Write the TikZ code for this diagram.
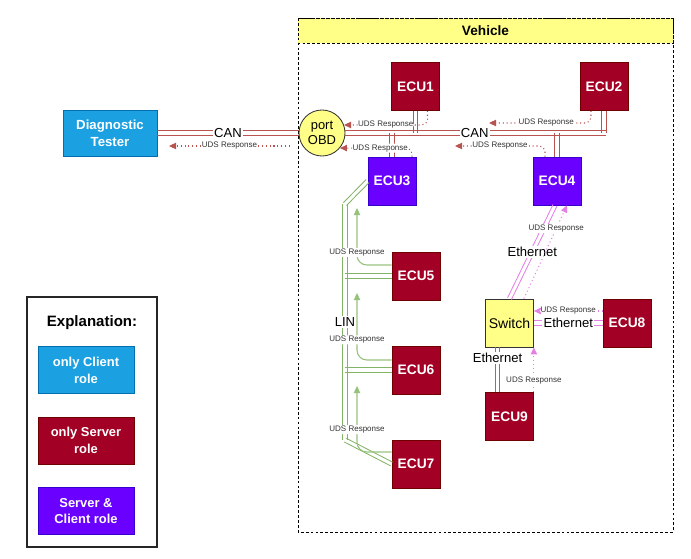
\documentclass[tikz,border=0pt]{standalone}
\usepackage{fontspec}
\setmainfont{Liberation Sans}
\usetikzlibrary{positioning,arrows.meta,calc}
\definecolor{client}{HTML}{1BA1E2}
\definecolor{clientline}{HTML}{006EAF}
\definecolor{server}{HTML}{A20025}
\definecolor{serverline}{HTML}{6F0000}
\definecolor{both}{HTML}{6A00FF}
\definecolor{bothline}{HTML}{3700CC}
\definecolor{note}{HTML}{FFFF88}
\definecolor{canbus}{HTML}{B85450}
\definecolor{linbus}{HTML}{82B366}
\definecolor{linresp}{HTML}{97C27E}
\definecolor{ethbus}{HTML}{E47FE6}
\definecolor{ethdark}{HTML}{B050C8}
\definecolor{ink}{HTML}{333333}

\tikzset{
  box/.style={draw, line width=0.5pt, minimum width=1.2cm, minimum height=1.2cm,
    inner sep=1pt, align=center, text=white,
    font=\fontsize{9.8}{11.5}\selectfont\bfseries},
  srv/.style={box, fill=server, draw=serverline},
  cli/.style={box, fill=client, draw=clientline},
  srvcli/.style={box, fill=both, draw=bothline},
  canlink/.style={draw=canbus, line width=0.6pt},
  linlink/.style={draw=linbus, line width=0.6pt},
  ethlink/.style={draw=ethbus, line width=0.6pt},
  resp/.style={dotted, line width=0.75pt, rounded corners=4pt,
    -{Triangle[length=5pt,width=4.5pt]}},
  canresp/.style={resp, draw=canbus},
  linresp/.style={resp, solid, draw=linresp, rounded corners=7pt},
  ethresp/.style={resp, draw=ethbus},
  buslabel/.style={fill=white, inner sep=1pt, text=black,
    font=\fontsize{9.3}{10}\selectfont},
  resplabel/.style={fill=white, inner sep=0.6pt, text=ink,
    font=\fontsize{5.7}{6}\selectfont},
}
% two parallel lines between two points
\newcommand{\buslink}[3]{%
  \draw[#1] ($(#2)!1.5pt!90:(#3)$) -- ($(#3)!1.5pt!-90:(#2)$);
  \draw[#1] ($(#2)!1.5pt!-90:(#3)$) -- ($(#3)!1.5pt!90:(#2)$);}

\begin{document}
\begin{tikzpicture}[x=0.025cm, y=-0.025cm]
  \useasboundingbox (0,0) rectangle (691,559);

  % vehicle frame
  \draw[dash pattern=on 2pt off 1.5pt, line width=0.6pt, fill=note]
    (298,18) rectangle (673,43);
  \draw[dash pattern=on 2pt off 1.5pt, line width=0.6pt] (298,18) rectangle (673,532);
  \node[font=\fontsize{9.7}{11}\selectfont\bfseries] (vehicle) at (485.5,30.5) {Vehicle};

  % nodes
  \node[cli, minimum width=2.35cm, minimum height=1.15cm,
        font=\fontsize{9.4}{12}\selectfont\bfseries] (tester) at (110,133) {Diagnostic\\Tester};
  \node[circle, draw=black!80, line width=0.6pt, fill=note, minimum size=1.15cm,
        inner sep=0pt, align=center, font=\fontsize{9.2}{11}\selectfont] (obd) at (322,133) {port\\OBD};
  \node[srv] (ecu1) at (415.5,86.5) {ECU1};
  \node[srv] (ecu2) at (604,86.5) {ECU2};
  \node[srvcli] (ecu3) at (392,181) {ECU3};
  \node[srvcli] (ecu4) at (557,181) {ECU4};
  \node[srv] (ecu5) at (416,276) {ECU5};
  \node[srv] (ecu6) at (416,370) {ECU6};
  \node[srv] (ecu7) at (416,464) {ECU7};
  \node[box, fill=note, draw=black!80, text=black,
        font=\fontsize{10}{11}\selectfont] (switch) at (509.5,323) {Switch};
  \node[srv] (ecu8) at (627,323) {ECU8};
  \node[srv] (ecu9) at (509.5,416.5) {ECU9};

  % CAN
  \coordinate (buscorner) at (ecu2.south |- obd.east);
  \coordinate (busend) at ($(buscorner)+(2,0)$);
  \coordinate (drop1) at (ecu1.south |- obd.east);
  \coordinate (drop3) at (ecu3.north |- obd.east);
  \coordinate (drop4) at (ecu4.north |- obd.east);
  \buslink{canlink}{tester.east}{obd.west}
  \buslink{canlink}{ecu1.south}{drop1}
  \buslink{canlink}{ecu3.north}{drop3}
  \buslink{canlink}{ecu4.north}{drop4}
  \buslink{canlink}{obd.east}{busend}
  \buslink{canlink}{ecu2.south}{buscorner}
  \node[buslabel] (can1) at ($(tester.east)!0.5!(obd.west)$) {CAN};
  \node[buslabel] (can2) at ($(obd.east)!0.5!(buscorner)$) {CAN};

  % LIN
  \coordinate (lintop) at (345,204);
  \coordinate (linbot) at (345,440);
  \coordinate (lin5) at (ecu5.west -| lintop);
  \coordinate (lin6) at (ecu6.west -| lintop);
  \buslink{linlink}{ecu5.west}{lin5}
  \buslink{linlink}{ecu6.west}{lin6}
  \buslink{linlink}{ecu3.west}{lintop}
  \buslink{linlink}{lintop}{linbot}
  \buslink{linlink}{linbot}{ecu7.west}
  \node[buslabel] (linlabel) at ($(lintop)!0.5!(linbot)$) {LIN};

  % Ethernet
  \coordinate (eth4) at ($(ecu4.south)+(-2,0)$);
  \coordinate (sw9) at ($(switch.south)+(-12,0)$);
  \coordinate (eth9) at ($(ecu9.north)+(-12,0)$);
  \buslink{ethlink}{eth4}{switch.north}
  \buslink{ethlink}{switch.east}{ecu8.west}
  \buslink{ethlink, draw=ethdark}{sw9}{eth9}
  \node[buslabel] (eth4label) at ($(eth4)!0.5!(switch.north)$) {Ethernet};
  \node[buslabel] (eth8label) at ($(switch.east)!0.5!(ecu8.west)$) {Ethernet};
  \node[buslabel] (eth9label) at ($(sw9)!0.24!(eth9)$) {Ethernet};

  % UDS responses on CAN
  \coordinate (tstend) at (169,146);
  \coordinate (obdout) at (290,146);
  \coordinate (ecu2end) at (489,123);
  \coordinate (ecu4end) at (455,146);
  \draw[canresp] (obdout) -- node[resplabel] {UDS Response} (tstend);
  \draw[canresp] ($(ecu1.south)+(12,0)$) |- node[resplabel, pos=0.75] {UDS Response} (obd.20);
  \draw[canresp] ($(ecu3.north)+(20,0)$) |- node[resplabel, pos=0.72] {UDS Response} (obd.-40);
  \draw[canresp] ($(ecu2.south)+(-13,0)$) |- node[resplabel, pos=0.72] {UDS Response} (ecu2end);
  \draw[canresp] ($(ecu4.north)+(-12,0)$) |- node[resplabel, pos=0.75] {UDS Response} (ecu4end);

  % UDS responses on LIN
  \coordinate (lin3end) at (357,208);
  \coordinate (lin5end) at (357,293);
  \coordinate (lin6end) at (357,386);
  \draw[linresp] ($(ecu5.west)+(0,-11)$) -| node[resplabel, pos=0.61] {UDS Response} (lin3end);
  \draw[linresp] ($(ecu6.west)+(0,-10)$) -| node[resplabel, pos=0.65] {UDS Response} (lin5end);
  \draw[linresp] ($(ecu7.west)+(0,-12)$) -| node[resplabel, pos=0.67] {UDS Response} (lin6end);

  % UDS responses on Ethernet
  \draw[ethresp] ($(switch.north east)+(-10,0)$) -- node[resplabel, pos=0.75] {UDS Response} ($(ecu4.south)+(10,0)$);
  \draw[ethresp] ($(ecu8.west)+(0,-12)$) -- node[resplabel] {UDS Response} ($(switch.east)+(0,-12)$);
  \draw[ethresp] (ecu9.north east) -- node[resplabel, pos=0.26] {UDS Response} (switch.south east);

  % explanation
  \draw[line width=0.8pt, black!85] (27,297) rectangle (157,547);
  \node[font=\fontsize{10.7}{12}\selectfont\bfseries] (expl) at (92,323) {Explanation:};
  \node[cli, minimum width=2.4cm, minimum height=1.175cm,
        font=\fontsize{9.2}{12}\selectfont\bfseries] (legcli) at (86,370) {only Client\\role};
  \node[srv, minimum width=2.4cm, minimum height=1.175cm,
        font=\fontsize{9.2}{12}\selectfont\bfseries] (legsrv) at (86,440.5) {only Server\\role};
  \node[srvcli, minimum width=2.4cm, minimum height=1.175cm,
        font=\fontsize{9.2}{12}\selectfont\bfseries] (legboth) at (86,511) {Server \&\\Client role};
\end{tikzpicture}
\end{document}
